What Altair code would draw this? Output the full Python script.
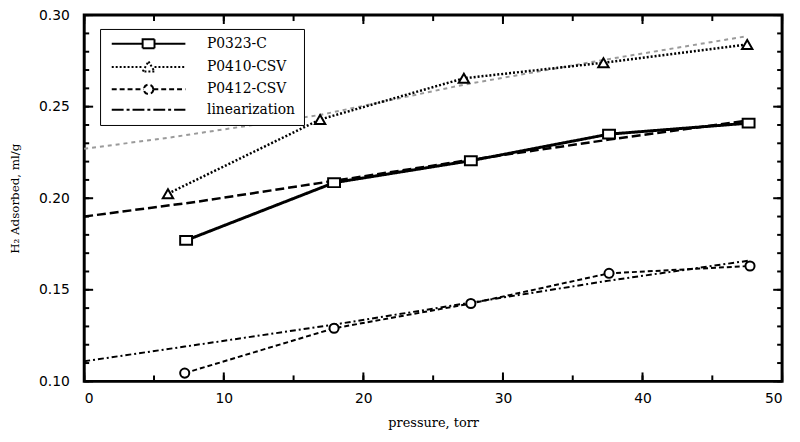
import altair as alt
import pandas as pd

# ---- data ----
series_names = ["P0323-C", "P0410-CSV", "P0412-CSV", "linearization"]

p0323_x = [7.3, 17.9, 27.7, 37.6, 47.6]
p0323_y = [0.177, 0.2085, 0.2205, 0.235, 0.241]
p0410_x = [6.0, 16.9, 27.2, 37.2, 47.5]
p0410_y = [0.2025, 0.243, 0.2655, 0.274, 0.284]
p0412_x = [7.2, 17.9, 27.7, 37.6, 47.7]
p0412_y = [0.1045, 0.129, 0.1425, 0.159, 0.163]

lin0323_x = [0, 8, 17.9, 27.7, 37.6, 47.6]
lin0323_y = [0.190, 0.198, 0.2095, 0.221, 0.232, 0.2425]
lin0410_x = [0, 6.0, 16.9, 27.2, 37.2, 47.5]
lin0410_y = [0.227, 0.233, 0.2455, 0.262, 0.2755, 0.2885]
lin0412_x = [0, 7.2, 17.9, 27.7, 37.6, 47.7]
lin0412_y = [0.111, 0.119, 0.131, 0.143, 0.155, 0.166]

x_major = [0, 10, 20, 30, 40, 50]
x_minor = [0, 5, 10, 15, 20, 25, 30, 35, 40, 45, 50]
y_major = [0.10, 0.15, 0.20, 0.25, 0.30]
y_minor = [0.10, 0.11, 0.12, 0.13, 0.14, 0.15, 0.16, 0.17, 0.18, 0.19, 0.20,
           0.21, 0.22, 0.23, 0.24, 0.25, 0.26, 0.27, 0.28, 0.29, 0.30]

W, H = 705, 370


def frame(xs, ys, name):
    return pd.DataFrame({"x": xs, "y": ys, "series": name})


measured = pd.concat([
    frame(p0323_x, p0323_y, "P0323-C"),
    frame(p0410_x, p0410_y, "P0410-CSV"),
    frame(p0412_x, p0412_y, "P0412-CSV"),
])
lin_a = frame(lin0323_x, lin0323_y, "lin-P0323-C")
lin_b = frame(lin0410_x, lin0410_y, "lin-P0410-CSV")
lin_c = frame(lin0412_x, lin0412_y, "lin-P0412-CSV")

x_scale = alt.Scale(domain=[0, 50], nice=False, zero=False)
y_scale = alt.Scale(domain=[0.10, 0.30], nice=False, zero=False)

common = dict(domain=False, ticks=False, grid=False,
              labelFont="DejaVu Sans", labelFontSize=14, labelColor="black",
              titleFont="DejaVu Serif", titleFontWeight="normal",
              titleColor="black", labelOverlap=False)

x_bottom = alt.Axis(orient="bottom", values=x_major,
                    title="pressure, torr", titleFontSize=13, labelPadding=10, titlePadding=12, **common)
y_left = alt.Axis(orient="left", values=y_major, format=".2f",
                  title="H₂ Adsorbed, ml/g", titleFontSize=12, labelPadding=15, titlePadding=17, **common)

# legend symbols: a line with the marker in its middle (custom paths, unit = 6px)
legend_paths = [
    "M-6.2,0H-1M1,0H6.2M-1,-0.75H1V0.75H-1Z",
    "M-6.2,0H-1M1,0H6.2M0,-0.95L1,0.75H-1Z",
    "M-6.2,0H-0.8M0.8,0H6.2M0.8,0A0.8,0.8,0,1,1,-0.8,0A0.8,0.8,0,1,1,0.8,0",
    "M-6.2,0H6.2",
]

legend = alt.Legend(
    title=None, orient="none", legendX=16, legendY=14, padding=8,
    fillColor="white", strokeColor="black",
    labelFont="DejaVu Serif", labelFontSize=14, labelColor="black",
    labelExpr="datum.label + '\u00a0\u00a0'",
    symbolSize=144, symbolOffset=34, labelOffset=52, rowPadding=4.5,
    symbolStrokeColor="black", symbolFillColor="white", symbolStrokeWidth=2,
)

dash_scale = alt.Scale(domain=series_names, range=[[1, 0], [2, 2], [5, 3], [12, 3, 3, 3]])
shape_scale = alt.Scale(domain=series_names, range=legend_paths)

lin_layer_a = alt.Chart(lin_a).mark_line(color="black", strokeWidth=2.5, strokeDash=[9, 4]).encode(
    x=alt.X("x:Q", scale=x_scale, axis=None),
    y=alt.Y("y:Q", scale=y_scale, axis=None),
)
lin_layer_b = alt.Chart(lin_b).mark_line(color="#9a9a9a", strokeWidth=2, strokeDash=[4, 4]).encode(
    x=alt.X("x:Q", scale=x_scale, axis=None),
    y=alt.Y("y:Q", scale=y_scale, axis=None),
)
lin_layer_c = alt.Chart(lin_c).mark_line(color="black", strokeWidth=2, strokeDash=[6, 3, 2, 3]).encode(
    x=alt.X("x:Q", scale=x_scale, axis=None),
    y=alt.Y("y:Q", scale=y_scale, axis=None),
)

lines = alt.Chart(measured).mark_line(color="black").encode(
    x=alt.X("x:Q", scale=x_scale, axis=x_bottom),
    y=alt.Y("y:Q", scale=y_scale, axis=y_left),
    strokeDash=alt.StrokeDash("series:N", scale=dash_scale, legend=legend),
    strokeWidth=alt.StrokeWidth("series:N", scale=alt.Scale(domain=series_names[:3], range=[3, 2, 2]), legend=None),
)

# invisible layer that only feeds the merged legend (shape + dash)
legend_feed = alt.Chart(measured).mark_point(opacity=0, filled=False, color="black").encode(
    x=alt.X("x:Q", scale=x_scale, axis=None),
    y=alt.Y("y:Q", scale=y_scale, axis=None),
    shape=alt.Shape("series:N", scale=shape_scale, legend=legend),
    strokeDash=alt.StrokeDash("series:N", scale=dash_scale, legend=legend),
)


def markers(name, shape, size):
    return alt.Chart(measured).transform_filter(alt.datum.series == name).mark_point(
        shape=shape, size=size, filled=True, fill="white", stroke="black", strokeWidth=2, opacity=1
    ).encode(
        x=alt.X("x:Q", scale=x_scale, axis=None),
        y=alt.Y("y:Q", scale=y_scale, axis=None),
    )


# inward tick marks on all four sides of the frame, placed through the scales
def y_tick_rules(values, start, end):
    return alt.Chart(pd.DataFrame({"v": values})).mark_rule(color="black", strokeWidth=2).encode(
        y=alt.Y("v:Q", scale=y_scale, axis=None),
        x=alt.value(start), x2=alt.value(end),
    )


def x_tick_rules(values, start, end):
    return alt.Chart(pd.DataFrame({"v": values})).mark_rule(color="black", strokeWidth=2).encode(
        x=alt.X("v:Q", scale=x_scale, axis=None),
        y=alt.value(start), y2=alt.value(end),
    )


tick_layers = [
    y_tick_rules(y_major, 0, 9), y_tick_rules(y_minor, 0, 5),
    y_tick_rules(y_major, W, W - 9), y_tick_rules(y_minor, W, W - 5),
    x_tick_rules(x_major, H, H - 9), x_tick_rules(x_minor, H, H - 6),
    x_tick_rules(x_major, 0, 9), x_tick_rules(x_minor, 0, 6),
]

chart = alt.layer(
    *tick_layers,
    lin_layer_a, lin_layer_b, lin_layer_c, lines, legend_feed,
    markers("P0323-C", "M-1,-0.75H1V0.75H-1Z", 144),
    markers("P0410-CSV", "triangle-up", 110),
    markers("P0412-CSV", "circle", 85),
).resolve_axis(
    x="independent", y="independent"
).properties(
    width=W, height=H,
    padding={"left": 77, "top": 5, "right": 10, "bottom": 51},
    autosize="none",
    background="white",
).configure_view(stroke="black", strokeWidth=3)

chart.save("out.html", embed_options={"renderer": "svg", "actions": False})
